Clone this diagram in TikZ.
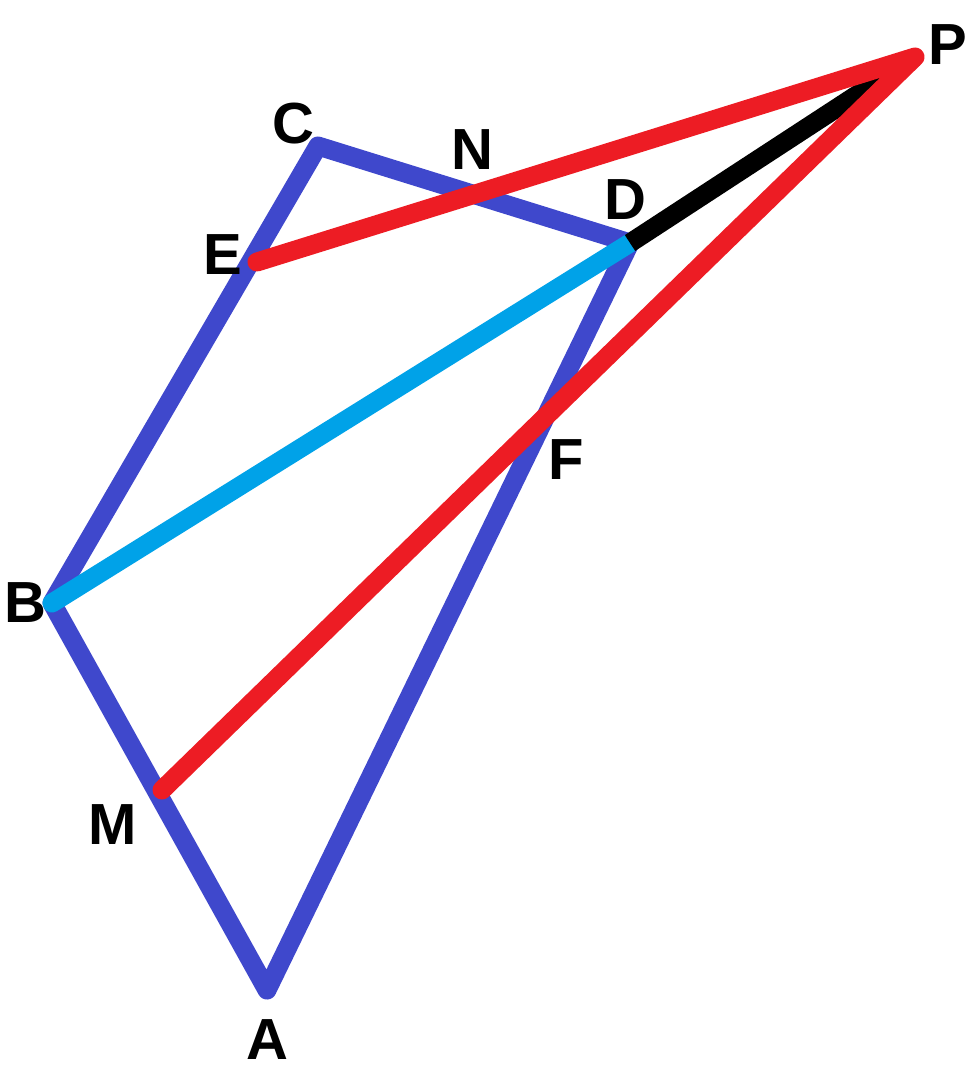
\documentclass[tikz,border=0pt]{standalone}
\usepackage{fontspec}
\setmainfont{Liberation Sans}
\definecolor{pblue}{HTML}{3F48CC}
\definecolor{pcyan}{HTML}{00A2E8}
\definecolor{pred}{HTML}{ED1C24}
\begin{document}
\begin{tikzpicture}[x=1pt,y=-1pt,
  seg/.style={line width=19pt,line join=round,line cap=round},
  lbl/.style={font=\fontsize{58}{58}\selectfont\bfseries,inner sep=0pt,text=black}]
\useasboundingbox (0,0) rectangle (969,1075);
\coordinate (A) at (267,990);
\coordinate (B) at (52,603);
\coordinate (C) at (318,146);
\coordinate (D) at (630,243);
\coordinate (E) at (257,262);
\coordinate (M) at (162,790);
\coordinate (P) at (915,57);
% quadrilateral
\draw[seg,pblue] (A) -- (B) -- (C) -- (D) -- cycle;
% diagonal
\draw[seg,pcyan] (B) -- (D);
% black segment
\draw[seg,black,line cap=butt] (D) -- (P);
% red lines
\draw[seg,pred] (E) -- (P) -- (M);
% labels
\node[lbl] (lP) at (948,45) {P};
\node[lbl] (lC) at (293,124) {C};
\node[lbl] (lN) at (472,150) {N};
\node[lbl] (lD) at (625,200) {D};
\node[lbl] (lE) at (223,255) {E};
\node[lbl] (lF) at (566,460) {F};
\node[lbl] (lB) at (25,603) {B};
\node[lbl] (lM) at (113,825) {M};
\node[lbl] (lA) at (267,1040) {A};
\end{tikzpicture}
\end{document}
